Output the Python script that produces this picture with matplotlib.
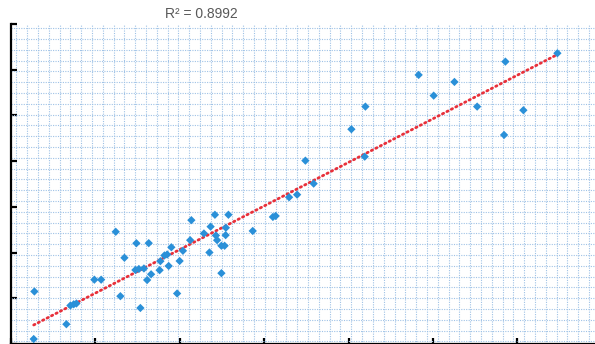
import numpy as np
import matplotlib
matplotlib.use("Agg")
import matplotlib.pyplot as plt
from matplotlib.ticker import MultipleLocator, FixedLocator

# Observed vs. predicted values
x_vals = [2.69, 2.77, 6.56, 7.04, 7.43, 7.75, 9.88, 10.68, 12.96, 15.33,
          12.41, 13.44, 14.86, 16.32, 14.74, 15.15, 15.75, 16.13, 16.60, 17.61,
          17.70, 18.18, 18.50, 18.68, 19.00, 19.68, 19.98, 20.37, 21.23, 21.37,
          22.86, 23.51, 23.65, 24.16, 24.28, 24.42, 24.93, 25.31, 24.93, 25.43,
          25.46, 25.76, 28.64, 31.03, 31.36, 32.95, 33.90, 35.86, 34.88, 40.33,
          41.91, 41.99, 48.30, 50.08, 52.54, 55.23, 58.42, 58.58, 60.71, 64.74]
y_vals = [1.09, 11.49, 4.33, 8.42, 8.69, 8.86, 14.07, 14.07, 10.46, 7.88,
          24.55, 18.86, 22.04, 22.06, 16.19, 16.41, 16.52, 14.00, 15.25, 16.15,
          18.12, 19.37, 19.58, 17.07, 21.16, 11.05, 18.16, 20.39, 22.71, 27.09,
          24.18, 20.02, 25.67, 28.27, 23.74, 22.71, 21.49, 21.49, 15.49, 23.81,
          25.43, 28.27, 24.73, 27.79, 28.01, 32.10, 32.67, 35.08, 40.11, 46.98,
          40.98, 51.93, 58.86, 54.33, 57.33, 51.93, 45.73, 61.77, 51.14, 63.61]
r2_label = "R² = 0.8992"

x = np.array(x_vals)
y = np.array(y_vals)

W, H = 595, 344
fig = plt.figure(figsize=(W / 100, H / 100), dpi=100)
fig.patch.set_facecolor("white")

left_px, top_px = 11, 24
ax = fig.add_axes([left_px / W, 0.0, 1 - left_px / W, 1 - top_px / H])
ax.set_xlim(0, (W - left_px) / 8.44)
ax.set_ylim(0, 70)

# graph-paper background grid (fixed spacing, independent of the ticks)
gx = np.arange(0.64, 70, 1.28)
gy = np.arange(69.08, -1, -2.363)
ax.xaxis.set_minor_locator(FixedLocator(gx))
ax.yaxis.set_minor_locator(FixedLocator(gy))
ax.grid(which="minor", color="#9fc2e6", linestyle=(0, (1, 1.2)), linewidth=0.8)
ax.grid(which="major", visible=False)
ax.set_axisbelow(True)

ax.xaxis.set_major_locator(MultipleLocator(10))
ax.yaxis.set_major_locator(MultipleLocator(10))
ax.tick_params(which="minor", length=0)
ax.tick_params(which="major", direction="in", length=4, width=1.6,
               color="black", labelbottom=False, labelleft=False)

for side in ("top", "right"):
    ax.spines[side].set_visible(False)
for side in ("left", "bottom"):
    ax.spines[side].set_color("black")
    ax.spines[side].set_linewidth(1.6)

# linear trendline over the data range
slope, intercept = np.polyfit(x, y, 1)
xt = np.array([x.min(), x.max()])
ax.plot(xt, slope * xt + intercept, color="#e8303a", linewidth=2.0,
        linestyle=(0, (0.5, 1.3)), dash_capstyle="round", zorder=2)

ax.scatter(x, y, marker="D", s=18, color="#2a90d8", edgecolors="none",
           zorder=3, clip_on=False)

fig.text(201 / W, 1 - 14 / H, r2_label, ha="center", va="center",
         fontsize=10, color="#595959", family="Liberation Sans")

fig.savefig("out.png", dpi=100)
